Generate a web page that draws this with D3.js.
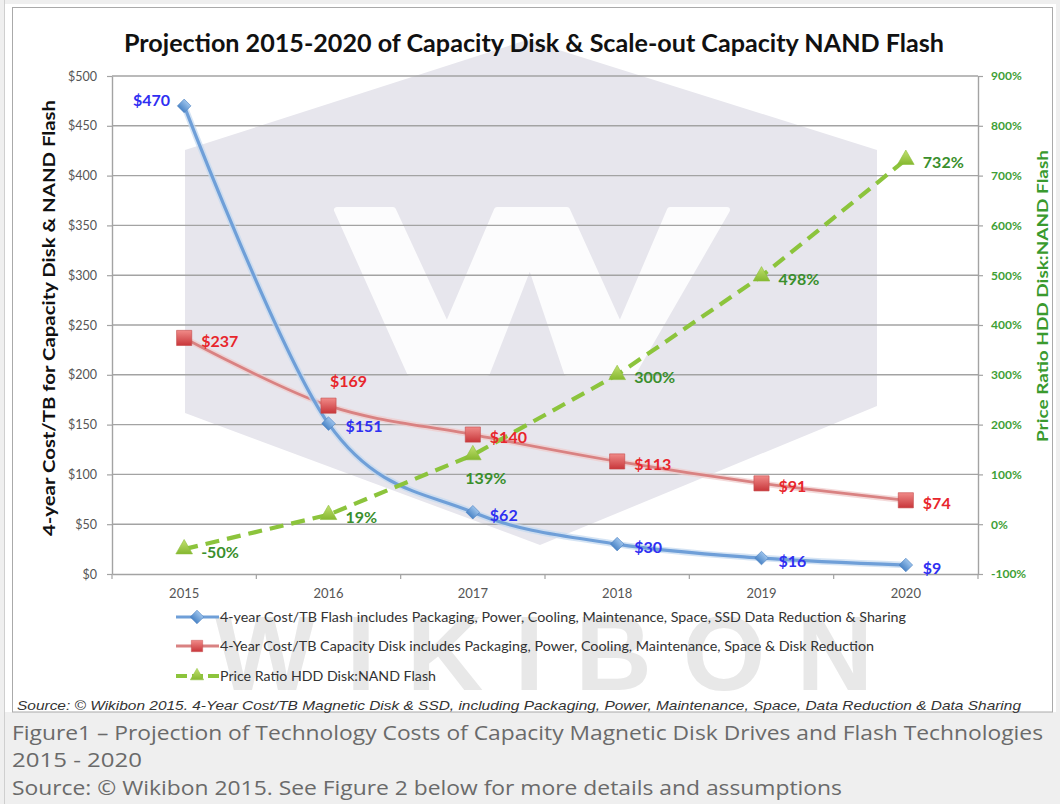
<!DOCTYPE html>
<html><head><meta charset="utf-8">
<script src="https://cdn.jsdelivr.net/npm/d3@7"></script>
<style>body{margin:0;background:#efefef}svg{display:block}</style>
</head><body>
<svg id="c" width="1060" height="804"></svg>
<script>
// ---------- data ----------
const years = ["2015","2016","2017","2018","2019","2020"];
const flashCost = [470,151,62,30,16,9];
const diskCost = [237,169,140,113,91,74];
const priceRatio = [-50,19,139,300,498,732];
const leftTicks = [0,50,100,150,200,250,300,350,400,450,500];
const rightTicks = [-100,0,100,200,300,400,500,600,700,800,900];
const legendLabels = [
  "4-year Cost/TB Flash includes Packaging, Power, Cooling, Maintenance, Space, SSD Data Reduction & Sharing",
  "4-Year Cost/TB Capacity Disk includes Packaging, Power, Cooling, Maintenance, Space & Disk Reduction",
  "Price Ratio HDD Disk:NAND Flash"
];
const titleText = "Projection 2015-2020 of Capacity Disk & Scale-out Capacity NAND Flash";
const leftTitle = "4-year Cost/TB for Capacity Disk & NAND Flash";
const rightTitle = "Price Ratio HDD Disk:NAND Flash";
const sourceText = "Source: \u00A9 Wikibon 2015. 4-Year Cost/TB Magnetic Disk & SSD, including Packaging, Power, Maintenance, Space, Data Reduction & Data Sharing";
const captionLines = [
  "Figure1 \u2013 Projection of Technology Costs of Capacity Magnetic Disk Drives and Flash Technologies",
  "2015 - 2020",
  "Source: \u00A9 Wikibon 2015. See Figure 2 below for more details and assumptions"
];

// label placement (style config)
const flashPlace = ["left","right","right","right","right","right"];
const diskPlace  = ["right","above","right","right","right","right"];
const ratioPlace = ["right","right","below","right","right","right"];

// ---------- layout ----------
const svg = d3.select("#c");
const W = 1060, H = 804;
const P = {left:112, right:978, top:76, bottom:574};
const FONT = "Lato, 'Open Sans', sans-serif";

const defs = svg.append("defs");
function grad(id, c1, c2){
  const g = defs.append("linearGradient").attr("id",id).attr("x1",0).attr("y1",0).attr("x2",0).attr("y2",1);
  g.append("stop").attr("offset","0%").attr("stop-color",c1);
  g.append("stop").attr("offset","100%").attr("stop-color",c2);
}
grad("gBlue","#9cc3ec","#4a84c6");
grad("gRed","#f08a88","#c8363a");
grad("gGreen","#c2e070","#86b830");

// background / frame
svg.append("rect").attr("width",W).attr("height",H).attr("fill","#efefef");
svg.append("line").attr("x1",4.5).attr("x2",4.5).attr("y1",0).attr("y2",H).attr("stroke","#cfcfcf");
svg.append("rect").attr("x",5).attr("y",4).attr("width",1051).attr("height",708).attr("fill","#fff");
svg.append("rect").attr("x",12.5).attr("y",7.5).attr("width",1040).attr("height",704.5)
  .attr("fill","#fff").attr("stroke","#aaaaaa");

// watermark hexagon + W
svg.append("polygon")
  .attr("points","185,150 527,40 877,150 877,406 540,545 185,413")
  .attr("fill","#e7e6ed");
svg.append("polygon")
  .attr("points","337,210 393,210 447,327 497,210 567,210 620,327 670,210 727,210 633,373 567,373 530,263 487,373 410,373")
  .attr("fill","#fcfcfd").attr("stroke","#fcfcfd").attr("stroke-width",6).attr("stroke-linejoin","round");
svg.append("text").attr("x",215).attr("y",690)
  .attr("font-family","'Liberation Sans', Arial, sans-serif").attr("font-weight","bold")
  .attr("font-size",106).attr("fill","#e8e8e8")
  .attr("textLength",658).attr("lengthAdjust","spacing")
  .text("WIKIBON");

// scales
const x = d3.scaleBand().domain(years).range([P.left, P.right]);
const cx = d => x(d) + x.bandwidth()/2;
const yL = d3.scaleLinear().domain([0,500]).range([P.bottom, P.top]);
const yR = d3.scaleLinear().domain([-100,900]).range([P.bottom, P.top]);

// gridlines
svg.append("g").selectAll("line").data(leftTicks.slice(1)).join("line")
  .attr("x1",P.left).attr("x2",P.right)
  .attr("y1",d=>yL(d)).attr("y2",d=>yL(d))
  .attr("stroke","#a3a3a3").attr("stroke-width",1.4);

// axes
function styleAxis(g, color, weight){
  g.select(".domain").attr("stroke","#a3a3a3").attr("stroke-width",1.4);
  g.selectAll(".tick line").attr("stroke","#a3a3a3").attr("stroke-width",1.2);
  g.selectAll("text").attr("font-family",FONT).attr("font-size",12.5)
    .attr("fill",color).attr("font-weight",weight);
}
const gL = svg.append("g").attr("transform",`translate(${P.left},0)`)
  .call(d3.axisLeft(yL).tickValues(leftTicks).tickFormat(d=>"$"+d).tickSize(5).tickPadding(10).tickSizeOuter(0));
styleAxis(gL,"#555","normal");
const gR = svg.append("g").attr("transform",`translate(${P.right},0)`)
  .call(d3.axisRight(yR).tickValues(rightTicks).tickFormat(d=>d+"%").tickSize(5).tickPadding(8).tickSizeOuter(0));
styleAxis(gR,"#3f9f36","bold");
gR.selectAll("text").attr("font-size",12);
const gB = svg.append("g").attr("transform",`translate(0,${P.bottom})`)
  .call(d3.axisBottom(x).tickSize(0).tickPadding(15).tickSizeOuter(0));
styleAxis(gB,"#555","normal");
gB.selectAll("text").attr("font-size",13);
// category boundary ticks
const edges = years.map(d=>x(d)).concat([P.right]);
svg.append("g").selectAll("line").data(edges).join("line")
  .attr("x1",d=>d).attr("x2",d=>d).attr("y1",P.bottom).attr("y2",P.bottom+5)
  .attr("stroke","#a3a3a3").attr("stroke-width",1.2);

// lines
const smooth = d3.curveCardinal.tension(0);
const lineFlash = d3.line().x((d,i)=>cx(years[i])).y(d=>yL(d)).curve(smooth);
const lineDisk = d3.line().x((d,i)=>cx(years[i])).y(d=>yL(d)).curve(smooth);
const lineRatio = d3.line().x((d,i)=>cx(years[i])).y(d=>yR(d));

svg.append("path").attr("d",lineDisk(diskCost)).attr("fill","none")
  .attr("stroke","#f0caca").attr("stroke-width",6).attr("opacity",0.7);
svg.append("path").attr("d",lineDisk(diskCost)).attr("fill","none")
  .attr("stroke","#d98282").attr("stroke-width",2.8);
svg.append("path").attr("d",lineFlash(flashCost)).attr("fill","none")
  .attr("stroke","#c3d8f0").attr("stroke-width",6.5).attr("opacity",0.7);
svg.append("path").attr("d",lineFlash(flashCost)).attr("fill","none")
  .attr("stroke","#6f9fd8").attr("stroke-width",3.2);
svg.append("path").attr("d",lineRatio(priceRatio)).attr("fill","none")
  .attr("stroke","#8cc43c").attr("stroke-width",4.2).attr("stroke-dasharray","14,8");

// markers
const diamond = d3.symbol().type(d3.symbolSquare).size(92)();
const square = d3.symbol().type(d3.symbolSquare).size(230)();
const tri = d3.symbol().type(d3.symbolTriangle).size(120)();

svg.append("g").selectAll("path").data(priceRatio).join("path")
  .attr("d",tri).attr("transform",(d,i)=>`translate(${cx(years[i])},${yR(d)})`)
  .attr("fill","url(#gGreen)").attr("stroke","#8cbf3a").attr("stroke-width",0.6);
svg.append("g").selectAll("path").data(diskCost).join("path")
  .attr("d",square).attr("transform",(d,i)=>`translate(${cx(years[i])},${yL(d)})`)
  .attr("fill","url(#gRed)").attr("stroke","#c64a4a").attr("stroke-width",0.6);
svg.append("g").selectAll("path").data(flashCost).join("path")
  .attr("d",diamond).attr("transform",(d,i)=>`translate(${cx(years[i])},${yL(d)}) rotate(45)`)
  .attr("fill","url(#gBlue)").attr("stroke","#4d82c2").attr("stroke-width",0.6);

// data labels
function labels(vals, scale, place, fmt, color){
  svg.append("g").selectAll("text").data(vals).join("text")
    .attr("x",(d,i)=>{const p=place[i], X=cx(years[i]);
      return p==="left"?X-14:p==="above"?X+20:p==="below"?X+13:X+17;})
    .attr("y",(d,i)=>{const p=place[i], Y=scale(d);
      return p==="left"?Y-5:p==="above"?Y-24:p==="below"?Y+23:Y+3;})
    .attr("dy","0.35em")
    .attr("text-anchor",(d,i)=>place[i]==="left"?"end":(place[i]==="above"||place[i]==="below")?"middle":"start")
    .attr("font-family",FONT).attr("font-weight","bold").attr("font-size",16)
    .attr("fill",color).text(fmt);
}
labels(flashCost, yL, flashPlace, d=>"$"+d, "#2f2ff2");
labels(diskCost, yL, diskPlace, d=>"$"+d, "#e8262c");
labels(priceRatio, yR, ratioPlace, d=>d+"%", "#3a8f2c");

// title
svg.append("text").attr("x",534).attr("y",52).attr("text-anchor","middle")
  .attr("font-family",FONT).attr("font-weight","bold").attr("font-size",25).attr("fill","#111")
  .attr("textLength",820).attr("lengthAdjust","spacingAndGlyphs").text(titleText);

// axis titles
svg.append("text").attr("transform","translate(49,318) rotate(-90)").attr("text-anchor","middle")
  .attr("dy","0.35em").attr("font-family",FONT).attr("font-weight","bold").attr("font-size",17)
  .attr("fill","#111").attr("textLength",436).attr("lengthAdjust","spacingAndGlyphs").text(leftTitle);
svg.append("text").attr("transform","translate(1042,296) rotate(-90)").attr("text-anchor","middle")
  .attr("dy","0.35em").attr("font-family",FONT).attr("font-weight","bold").attr("font-size",16)
  .attr("fill","#3a9a2e").attr("textLength",292).attr("lengthAdjust","spacingAndGlyphs").text(rightTitle);

// legend
const legY = [617,646,676];
const legLen = [686,654,216];
const lg = svg.append("g");
legendLabels.forEach((t,i)=>{
  const y = legY[i];
  if(i===0){
    lg.append("line").attr("x1",176).attr("x2",219).attr("y1",y).attr("y2",y).attr("stroke","#6f9fd8").attr("stroke-width",3.2);
    lg.append("path").attr("d",diamond).attr("transform",`translate(197,${y}) rotate(45)`).attr("fill","url(#gBlue)").attr("stroke","#4d82c2").attr("stroke-width",0.6);
  } else if(i===1){
    lg.append("line").attr("x1",176).attr("x2",219).attr("y1",y).attr("y2",y).attr("stroke","#d98282").attr("stroke-width",2.8);
    lg.append("path").attr("d",square).attr("transform",`translate(197,${y}) scale(0.75)`).attr("fill","url(#gRed)").attr("stroke","#c64a4a").attr("stroke-width",0.6);
  } else {
    lg.append("line").attr("x1",176).attr("x2",219).attr("y1",y).attr("y2",y).attr("stroke","#8cc43c").attr("stroke-width",4).attr("stroke-dasharray","11,5");
    lg.append("path").attr("d",tri).attr("transform",`translate(197,${y}) scale(0.8)`).attr("fill","url(#gGreen)").attr("stroke","#8cbf3a").attr("stroke-width",0.6);
  }
  lg.append("text").attr("x",220).attr("y",y).attr("dy","0.35em")
    .attr("font-family",FONT).attr("font-size",13).attr("fill","#333")
    .attr("textLength",legLen[i]).attr("lengthAdjust","spacingAndGlyphs").text(t);
});

// source line
svg.append("text").attr("x",17).attr("y",710)
  .attr("font-family","'Liberation Sans', Arial, sans-serif").attr("font-style","italic")
  .attr("font-size",13.5).attr("fill","#333")
  .attr("textLength",1004).attr("lengthAdjust","spacingAndGlyphs").text(sourceText);

// caption
const capY = [740,767,795];
const capLen = [1031,130,830];
captionLines.forEach((t,i)=>{
  svg.append("text").attr("x",12).attr("y",capY[i])
    .attr("font-family","'Open Sans', 'Noto Sans', sans-serif").attr("font-size",19.5).attr("fill","#6a6a6a")
    .attr("textLength",capLen[i]).attr("lengthAdjust","spacingAndGlyphs").text(t);
});
</script>
</body></html>
